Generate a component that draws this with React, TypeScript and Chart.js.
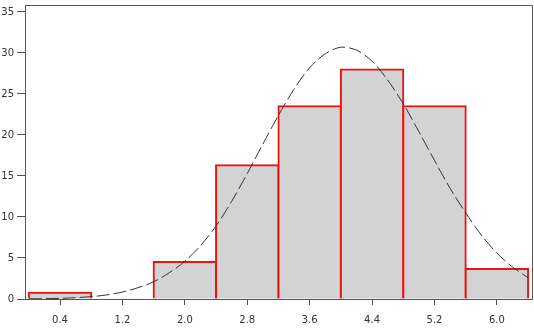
import React, { useEffect, useRef } from "react";
import { Chart, registerables } from "chart.js";

Chart.register(...registerables);

// Histogram bins (width 0.8) by centre, and bar heights
const binCenters = [0.4, 2.0, 2.8, 3.6, 4.4, 5.2, 6.0];
const binHeights = [0.75, 4.5, 16.3, 23.5, 28.0, 23.5, 3.65];

// Dashed density curve
const curveX = [0, 0.2, 0.4, 0.6, 0.8, 1.0, 1.2, 1.4, 1.6, 1.8, 2.0, 2.2, 2.4, 2.6, 2.8, 3.0, 3.2, 3.4, 3.6, 3.8, 4.0, 4.2, 4.4, 4.6, 4.8, 5.0, 5.2, 5.4, 5.6, 5.8, 6.0, 6.2, 6.4];
const curveY = [0.02, 0.04, 0.08, 0.16, 0.29, 0.5, 0.85, 1.38, 2.1, 3.2, 4.6, 6.5, 8.9, 11.9, 15.3, 18.9, 22.4, 25.6, 28.2, 29.9, 30.7, 30.35, 29.0, 26.7, 23.8, 20.4, 16.9, 13.5, 10.5, 7.8, 5.6, 3.9, 2.6];

const xTicks = [0.4, 1.2, 2.0, 2.8, 3.6, 4.4, 5.2, 6.0];
const yTicks = [0, 5, 10, 15, 20, 25, 30, 35];

const frame = {
  id: "frame",
  afterDraw(chart: any) {
    const { ctx, chartArea } = chart;
    ctx.save();
    ctx.strokeStyle = "#555";
    ctx.lineWidth = 1;
    ctx.beginPath();
    const t = Math.round(chartArea.top) + 0.5;
    const r = Math.round(chartArea.right) + 0.5;
    ctx.moveTo(chartArea.left, t);
    ctx.lineTo(r, t);
    ctx.lineTo(r, chartArea.bottom);
    ctx.stroke();
    ctx.restore();
  },
};

export default function App() {
  const ref = useRef<HTMLCanvasElement>(null);
  useEffect(() => {
    const font = { family: "'DejaVu Sans'", size: 10 };
    const chart = new Chart(ref.current!, {
      type: "bar",
      data: {
        datasets: [
          {
            type: "line",
            data: curveX.map((x, i) => ({ x, y: curveY[i] })),
            borderColor: "#333",
            borderWidth: 1,
            borderDash: [13, 4],
            pointRadius: 0,
            tension: 0.3,
            fill: false,
            order: 0,
          } as any,
          {
            type: "bar",
            data: binCenters.map((x, i) => ({ x, y: binHeights[i] })),
            backgroundColor: "#d3d3d3",
            borderColor: "#ee1111",
            borderWidth: 2,
            inflateAmount: 1,
            barPercentage: 1,
            categoryPercentage: 1,
            order: 1,
          } as any,
        ],
      },
      plugins: [frame],
      options: {
        animation: false,
        responsive: false,
        maintainAspectRatio: false,
        layout: { padding: { top: 5, right: 2, left: 0, bottom: 0 } },
        plugins: { legend: { display: false }, tooltip: { enabled: false } },
        scales: {
          x: {
            type: "linear",
            offset: false,
            min: -0.049,
            max: 6.45,
            afterBuildTicks: (s: any) => {
              s.ticks = xTicks.map((v) => ({ value: v }));
            },
            afterFit: (s: any) => {
              s.height = 30;
              s.paddingLeft = 0;
              s.paddingRight = 0;
            },
            ticks: {
              font,
              color: "#333",
              padding: 9,
              maxRotation: 0,
              autoSkip: false,
              callback: (v: any) => Number(v).toFixed(1),
            },
            grid: { drawOnChartArea: false, tickLength: 6, color: "#555", offset: false },
            border: { display: true, color: "#555", width: 1 },
          },
          y: {
            min: 0,
            max: 35.85,
            afterBuildTicks: (s: any) => {
              s.ticks = yTicks.map((v) => ({ value: v }));
            },
            afterFit: (s: any) => {
              s.width = 25;
              s.paddingTop = 0;
              s.paddingBottom = 0;
            },
            ticks: { font, color: "#333", padding: 3 },
            grid: { drawOnChartArea: false, tickLength: 8, color: "#555" },
            border: { display: true, color: "#555", width: 1 },
          },
        },
      },
    });
    return () => chart.destroy();
  }, []);
  return (
    <div style={{ position: "fixed", left: 0, top: 0, width: 534, height: 329, background: "#fff" }}>
      <canvas ref={ref} width={534} height={329} />
    </div>
  );
}
